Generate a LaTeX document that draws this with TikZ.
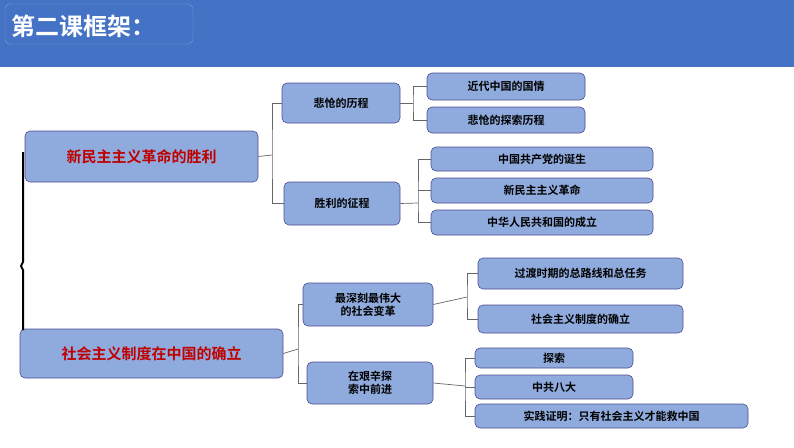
\documentclass[tikz,border=0pt]{standalone}
\usepackage{fontspec}
\setmainfont{Noto Sans CJK SC}[BoldFont={Noto Sans CJK SC Bold}]
\begin{document}
\begin{tikzpicture}[x=1pt,y=-1pt,
 box/.style={draw=blue!40!black!70,fill=bx,rounded corners=5pt,line width=0.6pt,font=\bfseries\fontsize{11}{13}\selectfont,align=center,inner sep=0pt},
 main/.style={box,text=redt,font=\bfseries\fontsize{15}{17}\selectfont},
 br/.style={draw=gray!80!black,line width=0.7pt}]
\definecolor{bx}{HTML}{8FAADC}
\definecolor{redt}{HTML}{C00000}
\definecolor{hd}{HTML}{4472C4}
\useasboundingbox (0,0) rectangle (794,447);
\fill[hd] (0,0) rectangle (794,67);
\draw[white,line width=1.5pt] (0,68.5) -- (794,68.5);
\draw[hd!70!white,rounded corners=5pt] (5,4) rectangle (193,44);
\node[anchor=west,text=white,font=\bfseries\fontsize{24}{26}\selectfont] (t) at (8,26) {第二课框架：};
\newcommand{\bx}[6]{\node[#1,minimum width=#4-#2,minimum height=#5-#3] (#6) at ({(#2+#4)/2},{(#3+#5)/2})}
\bx{main}{25}{131}{258}{182}{A}{新民主主义革命的胜利};
\bx{main}{20}{329}{283}{378}{B}{社会主义制度在中国的确立};
\bx{box}{282}{83}{400}{123}{a1}{悲怆的历程};
\bx{box}{284}{182}{400}{225}{a2}{胜利的征程};
\bx{box}{427}{73}{585}{100}{c1}{近代中国的国情};
\bx{box}{427}{107}{585}{133}{c2}{悲怆的探索历程};
\bx{box}{431}{147}{653}{171}{d1}{中国共产党的诞生};
\bx{box}{431}{178}{653}{203}{d2}{新民主主义革命};
\bx{box}{431}{210}{653}{235}{d3}{中华人民共和国的成立};
\bx{box}{303}{283}{433}{326}{b1}{最深刻最伟大\\的社会变革};
\bx{box}{307}{362}{433}{404}{b2}{在艰辛探\\索中前进};
\bx{box}{478}{258}{683}{289}{e1}{过渡时期的总路线和总任务};
\bx{box}{478}{305}{683}{333}{e2}{社会主义制度的确立};
\bx{box}{475}{348}{633}{368}{f1}{探索};
\bx{box}{475}{375}{633}{399}{f2}{中共八大};
\bx{box}{475}{404}{748}{428}{f3}{实践证明：只有社会主义才能救中国};
% left bracket
\draw[line width=2pt] (23,152) -- (23,262) -- (21,266) -- (23,270) -- (23,330);
% brackets
\draw[br] (A.east) -- (272,155);
\draw[br] (a1.west) -| (272,155) |- (a2.west);
\draw[br] (a1.east) -- (413,103);
\draw[br] (c1.west) -| (413,103) |- (c2.west);
\draw[br] (a2.east) -- (418,203);
\draw[br] (d1.west) -| (418,203) |- (d3.west);
\draw[br] (418,190.5) -- (d2.west);
\draw[br] (B.east) -- (298,349);
\draw[br] (b1.west) -| (298,349) |- (b2.west);
\draw[br] (b1.east) -- (467,297);
\draw[br] (e1.west) -| (467,297) |- (e2.west);
\draw[br] (b2.east) -- (465,386);
\draw[br] (f1.west) -| (465,386) |- (f3.west);
\draw[br] (465,387) -- (f2.west);
\end{tikzpicture}
\end{document}
